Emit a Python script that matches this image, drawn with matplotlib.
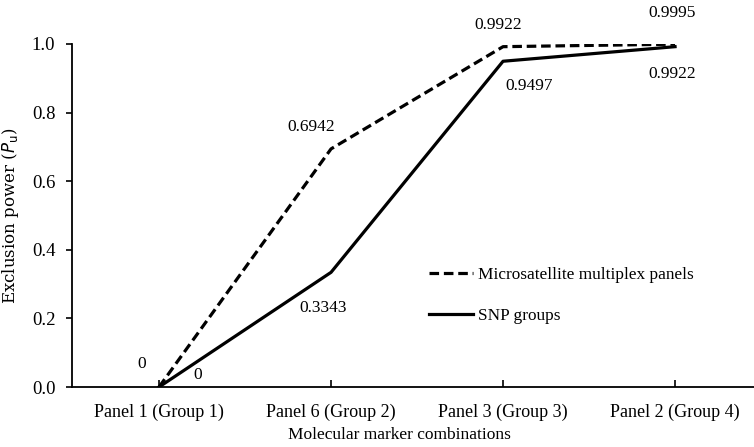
import matplotlib.pyplot as plt

categories = ['Panel 1 (Group 1)', 'Panel 6 (Group 2)', 'Panel 3 (Group 3)', 'Panel 2 (Group 4)']
microsat = [0, 0.6942, 0.9922, 0.9995]
snp = [0, 0.3343, 0.9497, 0.9922]
microsat_labels = ['0', '0.6942', '0.9922', '0.9995']
snp_labels = ['0', '0.3343', '0.9497', '0.9922']

plt.rcParams['font.family'] = ['Liberation Serif', 'DejaVu Serif']

fig = plt.figure(figsize=(7.54, 4.47), dpi=100)
ax = fig.add_axes([72 / 754, 1 - 387 / 447, 682 / 754, 343 / 447])

x = list(range(len(categories)))
ax.plot(x, microsat, color='black', lw=2.3, linestyle=(0, (3.0, 1.5)),
        label='Microsatellite multiplex panels')
ax.plot(x, snp, color='black', lw=2.3, label='SNP groups')

# label offsets in pixels
ms_off = [(-17, 23), (-20, 22), (-5, 22), (-3, 31)]
snp_off = [(39, 12), (-8, -36), (26, -25), (-3, -27)]
for i in x:
    ax.annotate(microsat_labels[i], (x[i], microsat[i]), xytext=ms_off[i],
                textcoords='offset pixels', ha='center', va='center', fontsize=12.5)
    ax.annotate(snp_labels[i], (x[i], snp[i]), xytext=snp_off[i],
                textcoords='offset pixels', ha='center', va='center', fontsize=12.5)

ax.set_xlim(-0.506, 3.459)
ax.set_ylim(0, 1.0)
ax.set_yticks([0, 0.2, 0.4, 0.6, 0.8, 1.0])
ax.set_yticklabels(['0.0', '0.2', '0.4', '0.6', '0.8', '1.0'], fontsize=13.5)
ax.set_xticks(x)
ax.set_xticklabels(categories, fontsize=13)
ax.tick_params(axis='y', direction='out', length=4, width=1.2, pad=8)
ax.tick_params(axis='x', direction='in', length=5, width=1.2, pad=12)

for s in ['top', 'right']:
    ax.spines[s].set_visible(False)
for s in ['left', 'bottom']:
    ax.spines[s].set_linewidth(1.3)

ax.set_ylabel('Exclusion power ($P_\\mathrm{u}$)', fontsize=12, family='DejaVu Serif',
              labelpad=8)
fig.text(0.53, 1 - 443 / 447, 'Molecular marker combinations', fontsize=12.5,
         ha='center', va='bottom')

ax.legend(loc='upper left', bbox_to_anchor=(0.5, 0.395), frameon=False,
          fontsize=12.4, handlelength=2.6, handletextpad=0.25, labelspacing=1.45)

fig.savefig('out.png', dpi=100)
